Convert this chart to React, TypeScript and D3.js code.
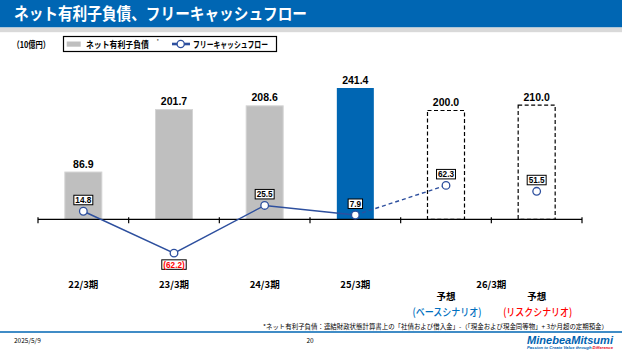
import React from "react";
import * as d3 from "d3";

const categories = ["22/3期", "23/3期", "24/3期", "25/3期", "26/3期予想ベース", "26/3期予想リスク"];
const netDebt = [86.9, 201.7, 208.6, 241.4, 200.0, 210.0];
const freeCashFlow = [14.8, -62.2, 25.5, 7.9, 62.3, 51.5];
const barKinds = ["actual", "actual", "actual", "latest", "forecast", "forecast"];
const periodLabels = ["22/3期", "23/3期", "24/3期", "25/3期"];
const forecastPeriod = "26/3期";
const forecastLabel = "予想";
const scenarioLabels = ["(ベースシナリオ)", "(リスクシナリオ)"];

const W = 622;
const H = 350;
const BLUE = "#0066b3";
const LINE = "#2d4f9e";
const JP = "'Noto Sans CJK JP', 'Noto Sans', sans-serif";
const LAT = "'Liberation Sans', Arial, sans-serif";

function fmtFcf(v: number) {
  return v < 0 ? `(${Math.abs(v).toFixed(1)})` : v.toFixed(1);
}
function textW(s: string, fs: number) {
  let w = 0;
  for (const ch of s) {
    if (ch === ".") w += 0.278;
    else if (ch === "(" || ch === ")") w += 0.333;
    else w += 0.556;
  }
  return w * fs;
}

export default function App() {
  const x = d3.scaleBand<string>().domain(categories).range([38, 582]).padding(0);
  const y = d3.scaleLinear().domain([0, 241.4]).range([219.3, 88]);
  const bw = 37;
  const cx = (i: number) => (x(categories[i]) as number) + x.bandwidth() / 2;
  const y0 = y(0);

  const solidPts: [number, number][] = freeCashFlow.slice(0, 4).map((v, i) => [cx(i), y(v)]);
  const dashPts: [number, number][] = [3, 4].map((i) => [cx(i), y(freeCashFlow[i])]);
  const line = d3.line();

  const tickXs = [...categories.map((c) => x(c) as number), 582];

  return (
    <svg width={W} height={H} style={{ position: "absolute", left: 0, top: 0, background: "#fff" }}>
      {/* Title bar */}
      <rect x={0} y={0} width={W} height={27.5} fill={BLUE} />
      <rect x={0} y={27.5} width={W} height={4.7} fill="#d9d9d9" />
      <text x={14} y={19.5} fill="#fff" fontFamily={JP} fontWeight={700} fontSize={16.5} textLength={293} lengthAdjust="spacingAndGlyphs">
        ネット有利子負債、フリーキャッシュフロー
      </text>

      {/* Unit + legend */}
      <text x={12.5} y={47.5} fontFamily={JP} fontWeight={700} fontSize={9} textLength={37.5} lengthAdjust="spacingAndGlyphs">（10億円）</text>
      <rect x={63.5} y={36.5} width={213} height={15} fill="#fff" stroke="#000" strokeWidth={1.2} />
      <rect x={66.7} y={41.5} width={14} height={5.2} fill="#bfbfbf" />
      <text x={86} y={47.8} fontFamily={JP} fontWeight={700} fontSize={9} textLength={63} lengthAdjust="spacingAndGlyphs">ネット有利子負債</text>
      <text x={156.5} y={42.5} fontFamily={JP} fontSize={5.5}>*</text>
      <line x1={172} x2={190} y1={44} y2={44} stroke={LINE} strokeWidth={2.6} />
      <circle cx={180.7} cy={44} r={3.6} fill="#fff" stroke={LINE} strokeWidth={1.3} />
      <text x={193} y={47.8} fontFamily={JP} fontWeight={700} fontSize={9} textLength={75} lengthAdjust="spacingAndGlyphs">フリーキャッシュフロー</text>

      {/* Bars */}
      {netDebt.map((v, i) => {
        const kind = barKinds[i];
        const bx = cx(i) - bw / 2;
        const top = y(v);
        return (
          <g key={"b" + i}>
            {kind === "actual" && (
              <rect x={bx} y={top} width={bw} height={y0 - top} fill="#bfbfbf" stroke="#d4d4d4" strokeWidth={1} />
            )}
            {kind === "latest" && <rect x={bx} y={top} width={bw} height={y0 - top} fill={BLUE} />}
            {kind === "forecast" && (
              <rect x={bx} y={top} width={bw} height={y0 - top} fill="#fff" stroke="#000" strokeWidth={1.2} strokeDasharray="4,2.5" />
            )}
            <text x={cx(i)} y={top - 4.5} textAnchor="middle" fontFamily={LAT} fontWeight={700} fontSize={10.5} fill="#000">
              {v.toFixed(1)}
            </text>
          </g>
        );
      })}

      {/* Axis */}
      <line x1={38} x2={582} y1={y0} y2={y0} stroke="#000" strokeWidth={1.3} />
      {tickXs.map((tx, i) => (
        <line key={"t" + i} x1={tx} x2={tx} y1={y0 - 2} y2={y0 + 4} stroke="#000" strokeWidth={1.2} />
      ))}

      {/* FCF line */}
      <path d={line(solidPts) as string} fill="none" stroke={LINE} strokeWidth={1.4} />
      <path d={line(dashPts) as string} fill="none" stroke={LINE} strokeWidth={1.4} strokeDasharray="4,3" />
      {freeCashFlow.map((v, i) => {
        const px = cx(i);
        const py = y(v);
        const label = fmtFcf(v);
        const fs = 8.2;
        const w = textW(label, fs) + 3;
        const h = 9.5;
        const by = v < 0 ? py + 6.7 : py - 6.5 - h;
        return (
          <g key={"p" + i}>
            <circle cx={px} cy={py} r={3.8} fill="#fff" stroke={LINE} strokeWidth={1.3} />
            <rect x={px - w / 2} y={by} width={w} height={h} fill="#fff" stroke="#000" strokeWidth={1} />
            <text x={px} y={by + h - 1.8} textAnchor="middle" fontFamily={LAT} fontWeight={700} fontSize={fs} fill={v < 0 ? "#ff0000" : "#000"}>
              {label}
            </text>
          </g>
        );
      })}

      {/* Category labels */}
      {periodLabels.map((l, i) => (
        <text key={"c" + i} x={cx(i)} y={287.5} textAnchor="middle" fontFamily={JP} fontWeight={700} fontSize={9.5}>
          {l}
        </text>
      ))}
      <text x={(cx(4) + cx(5)) / 2} y={287.5} textAnchor="middle" fontFamily={JP} fontWeight={700} fontSize={9.5}>
        {forecastPeriod}
      </text>
      {[4, 5].map((i, k) => (
        <g key={"s" + i}>
          <text x={cx(i)} y={299.5} textAnchor="middle" fontFamily={JP} fontWeight={700} fontSize={9.5}>
            {forecastLabel}
          </text>
          <text x={cx(i) + 1} y={315.5} textAnchor="middle" fontFamily={JP} fontWeight={500} fontSize={10.5} fill={k === 0 ? "#0070c0" : "#ff0000"} textLength={69} lengthAdjust="spacingAndGlyphs">
            {scenarioLabels[k]}
          </text>
        </g>
      ))}

      {/* Footnote */}
      <text x={263} y={328.5} fontFamily={JP} fontSize={6.3} textLength={345} lengthAdjust="spacingAndGlyphs">
        *ネット有利子負債：連結財政状態計算書上の「社債および借入金」-（「現金および現金同等物」+ 3か月超の定期預金）
      </text>

      {/* Footer */}
      <line x1={0} x2={W} y1={332} y2={332} stroke={BLUE} strokeWidth={1.4} />
      <text x={14} y={343} fontFamily={JP} fontSize={6.5}>2025/5/9</text>
      <text x={306.5} y={343} fontFamily={JP} fontSize={6.5}>20</text>
      <text x={527} y={343.5} fontFamily={LAT} fontWeight={700} fontStyle="italic" fontSize={11.5} fill="#0062b0" textLength={86} lengthAdjust="spacingAndGlyphs">
        MinebeaMitsumi
      </text>
      <text x={527} y={348.5} fontFamily={LAT} fontWeight={700} fontStyle="italic" fontSize={4.2} fill="#0062b0" textLength={86} lengthAdjust="spacingAndGlyphs">
        Passion to Create Value through <tspan fill="#e60012">Difference</tspan>
      </text>
    </svg>
  );
}
